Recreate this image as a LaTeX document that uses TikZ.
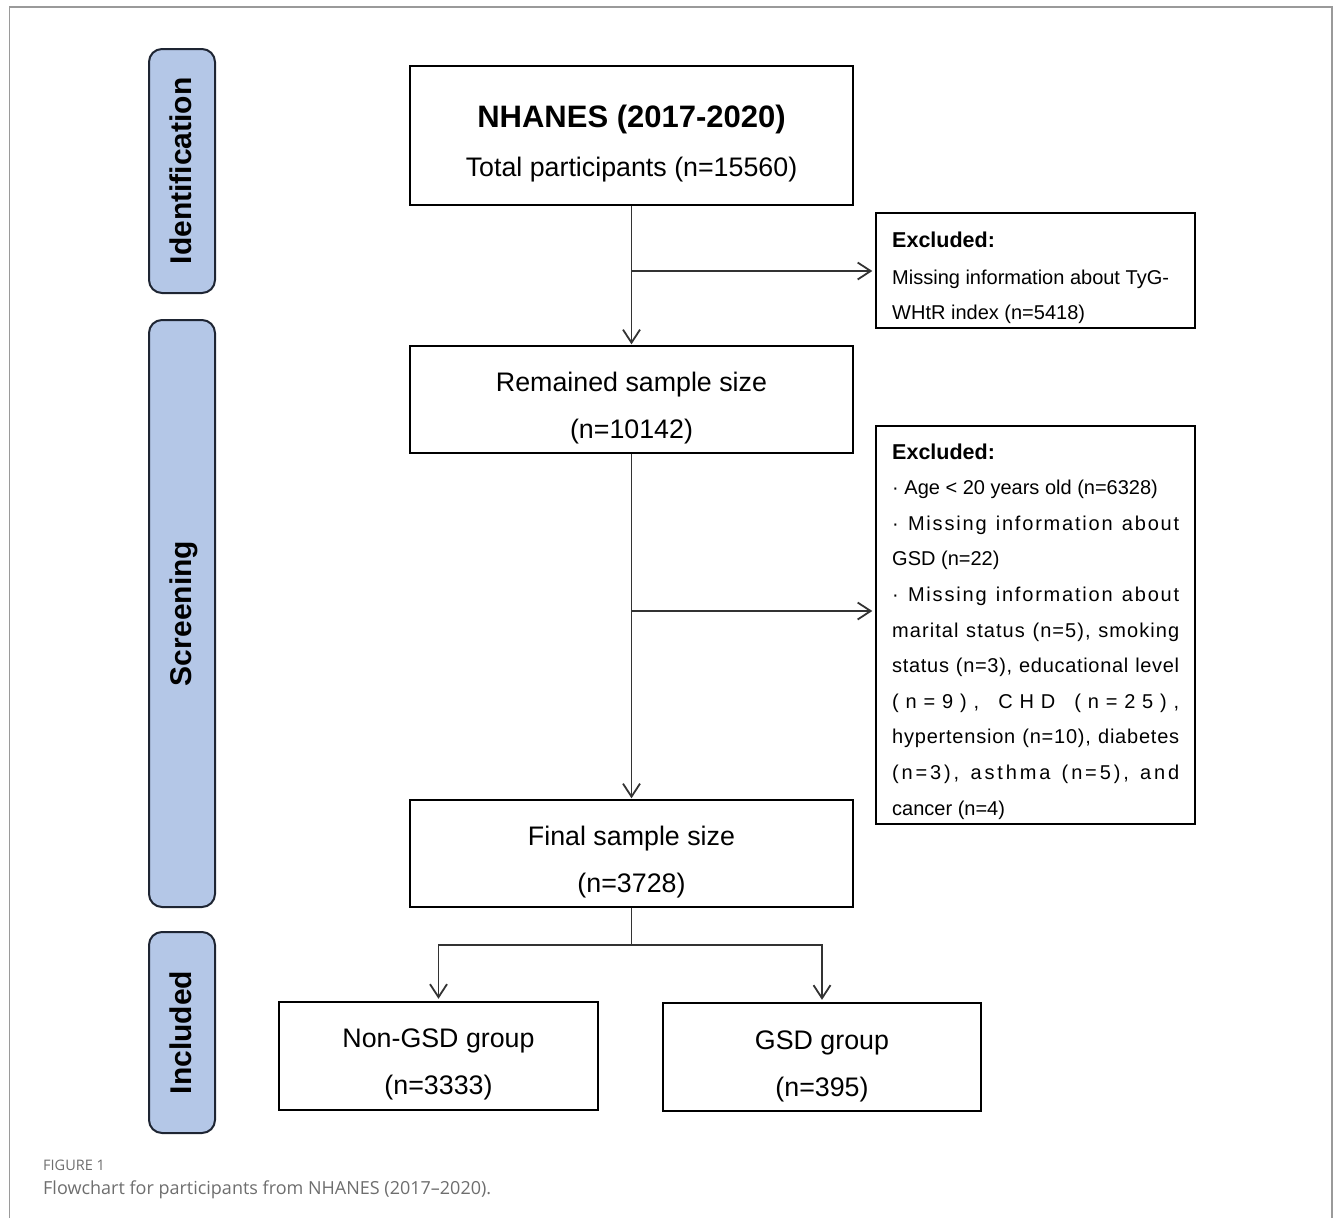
\documentclass[tikz,border=0pt]{standalone}
\usepackage{fontspec}
\setmainfont{Liberation Sans}
\newfontfamily\capfont{Open Sans}
\usetikzlibrary{arrows.meta}
\definecolor{pillfill}{HTML}{B4C7E7}
\definecolor{pillline}{HTML}{1E2533}
\definecolor{linecol}{HTML}{333333}
\definecolor{framecol}{HTML}{9A9A9A}
\definecolor{capgray}{HTML}{6E6E6E}
\newcommand\negfil{\hskip 0pt plus -1fil\relax}
\ExplSyntaxOn
\NewDocumentCommand\distline{mm}{\makebox[#1][s]{\negfil\str_map_inline:nn{#2}{\hfil ##1}}}
\ExplSyntaxOff
\tikzset{
  box/.style={draw=black, line width=1.4pt, inner sep=0pt},
  pill/.style={draw=pillline, fill=pillfill, line width=2pt, rounded corners=13pt,
    inner sep=0pt, font=\bfseries\fontsize{30}{36}\selectfont, text height=21pt, text depth=3pt},
  conn/.style={draw=linecol, line width=1.8pt},
  arr/.style={conn, -{Straight Barb[length=13pt,width=17pt]}},
  maintext/.style={anchor=base, inner sep=0pt, font=\fontsize{26.8}{32}\selectfont},
  titletext/.style={anchor=base, inner sep=0pt, font=\bfseries\fontsize{31}{36}\selectfont},
  exhead/.style={anchor=base west, inner sep=0pt, font=\bfseries\fontsize{21.5}{26}\selectfont},
  extext/.style={anchor=base west, inner sep=0pt, font=\fontsize{20}{24}\selectfont},
  capsmall/.style={anchor=base west, inner sep=0pt, text=capgray, font=\capfont\fontsize{14.5}{17}\selectfont},
  caplarge/.style={anchor=base west, inner sep=0pt, text=capgray, font=\capfont\fontsize{18}{22}\selectfont},
}
\begin{document}
\begin{tikzpicture}[x=1pt,y=-1pt]
\useasboundingbox (0,0) rectangle (1333,1218);
% outer frame
\draw[framecol, line width=1.5pt] (9.5,1218) -- (9.5,7) -- (1332,7) -- (1332,1218);

% side pills
\node[pill, rotate=90, minimum width=244pt, minimum height=66pt] (pid) at (182,171) {Identification};
\node[pill, rotate=90, minimum width=587pt, minimum height=66pt] (pscr) at (182,613.5) {Screening};
\node[pill, rotate=90, minimum width=201pt, minimum height=66pt] (pinc) at (182,1032.5) {Included};

% main boxes
\node[box, minimum width=443pt, minimum height=139pt] (nhanes) at (631.5,135.5) {};
\node[titletext] (nhanesA) at (631.5,127) {NHANES (2017-2020)};
\node[maintext] (nhanesB) at (631.5,176) {Total participants (n=15560)};

\node[box, minimum width=443pt, minimum height=107pt] (remained) at (631.5,399.5) {};
\node[maintext] (remA) at (631.5,391) {Remained sample size};
\node[maintext] (remB) at (631.5,438) {(n=10142)};

\node[box, minimum width=443pt, minimum height=107pt] (final) at (631.5,853.5) {};
\node[maintext] (finA) at (631.5,845) {Final sample size};
\node[maintext] (finB) at (631.5,892) {(n=3728)};

\node[box, minimum width=319pt, minimum height=108pt] (nongsd) at (438.5,1056) {};
\node[maintext] (ngA) at (438.5,1047) {Non-GSD group};
\node[maintext] (ngB) at (438.5,1094) {(n=3333)};

\node[box, minimum width=318pt, minimum height=108pt] (gsd) at (822,1057) {};
\node[maintext] (gA) at (822,1049) {GSD group};
\node[maintext] (gB) at (822,1096) {(n=395)};

% excluded boxes
\node[box, minimum width=319pt, minimum height=115pt] (excl1) at (1035.5,270.5) {};
\node[exhead] (e1a) at (892,247) {Excluded:};
\node[extext] (e1b) at (892,284) {Missing information about TyG-};
\node[extext] (e1c) at (892,319) {WHtR index (n=5418)};

\node[box, minimum width=319pt, minimum height=398pt] (excl2) at (1035.5,625) {};
\node[exhead] (e2a) at (892,459) {Excluded:};
\node[extext] (e2b) at (892,494.6) {· Age < 20 years old (n=6328)};
\node[extext] (e2c) at (892,530.2) {\distline{287pt}{· Missing information about}};
\node[extext] (e2d) at (892,565.8) {GSD (n=22)};
\node[extext] (e2e) at (892,601.4) {\distline{287pt}{· Missing information about}};
\node[extext] (e2f) at (892,637) {\distline{287pt}{marital status (n=5), smoking}};
\node[extext] (e2g) at (892,672.6) {\distline{287pt}{status (n=3), educational level}};
\node[extext] (e2h) at (892,708.2) {\distline{287pt}{(n=9), CHD (n=25),}};
\node[extext] (e2i) at (892,743.8) {\distline{287pt}{hypertension (n=10), diabetes}};
\node[extext] (e2j) at (892,779.4) {\distline{287pt}{(n=3), asthma (n=5), and}};
\node[extext] (e2k) at (892,815) {cancer (n=4)};

% connectors
\draw[arr, shorten >=1pt] (nhanes.south) -- (remained.north);
\draw[arr, shorten >=1pt] (remained.south) -- (final.north);
\coordinate (b1) at (631.5,271);
\coordinate (b2) at (631.5,611);
\draw[arr, shorten >=3pt] (b1) -- (excl1.west |- b1);
\draw[arr, shorten >=3pt] (b2) -- (excl2.west |- b2);
\coordinate (sp) at (631.5,945);
\draw[conn] (final.south) -- (sp);
\draw[arr, shorten >=2.5pt] (sp) -| (nongsd.north);
\draw[arr, shorten >=2.5pt] (sp) -| (gsd.north);

% caption
\node[capsmall] (figlab) at (43,1170) {FIGURE 1};
\node[caplarge] (figcap) at (43,1194) {Flowchart for participants from NHANES (2017–2020).};
\end{tikzpicture}
\end{document}
